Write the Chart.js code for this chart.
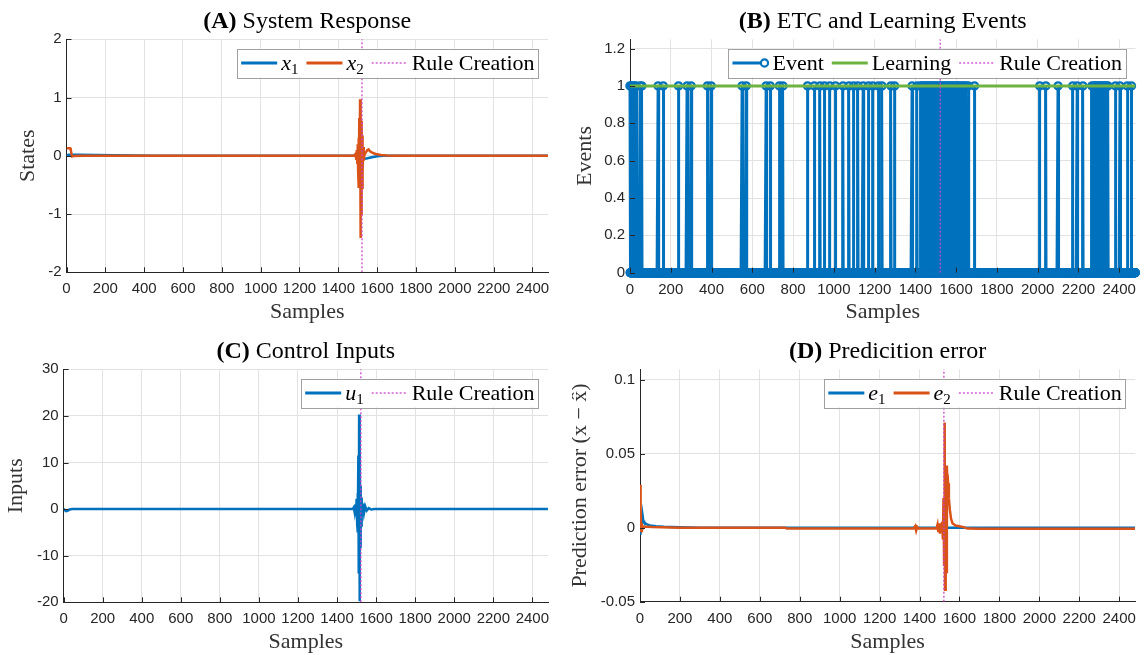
<!DOCTYPE html>
<html>
<head>
<meta charset="utf-8">
<title>ETC learning results</title>
<script src="https://cdn.jsdelivr.net/npm/chart.js@4.4.1/dist/chart.umd.min.js"></script>
<style>
  html, body { margin: 0; padding: 0; background: #fff; }
  #figure { position: relative; width: 1144px; height: 655px; overflow: hidden; }
  .panel { position: absolute; }
</style>
</head>
<body>
<div id="figure">
  <canvas id="panelA" class="panel" width="572" height="328" style="left:0;top:0"></canvas>
  <canvas id="panelB" class="panel" width="572" height="328" style="left:572px;top:0"></canvas>
  <canvas id="panelC" class="panel" width="572" height="327" style="left:0;top:328px"></canvas>
  <canvas id="panelD" class="panel" width="572" height="327" style="left:572px;top:328px"></canvas>
</div>
<script>
// ---- data ----
const sampleCount = 2480;
const ruleCreationSample = 1522;

const sampleTicks = [0, 200, 400, 600, 800, 1000, 1200, 1400, 1600, 1800, 2000, 2200, 2400];
const stateTicks = [-2, -1, 0, 1, 2];
const eventTicks = [0, 0.2, 0.4, 0.6, 0.8, 1, 1.2];
const inputTicks = [-20, -10, 0, 10, 20, 30];
const errorTicks = [-0.05, 0, 0.05, 0.1];

// (A) states, [sample, value]
const x1Trace = [[0, 0], [4, 0.01], [10, 0.02], [60, 0.02], [150, 0.015], [250, 0.008], [350, 0.004], [450, 0.001],
  [600, 0], [1480, 0], [1492, 0.01], [1498, -0.02], [1503, 0.03], [1508, -0.04], [1512, 0.05], [1516, -0.06],
  [1520, 0.03], [1524, -0.05], [1530, -0.05], [1545, -0.045], [1560, -0.035], [1580, -0.02], [1600, -0.008],
  [1630, 0], [2480, 0]];
const x2Trace = [[0, 0.13], [19, 0.13], [22, 0.1], [28, -0.01], [40, -0.005], [80, 0], [1480, 0], [1488, 0.03],
  [1492, -0.05], [1495, 0.1], [1498, -0.12], [1500, 0.2], [1502, -0.25], [1504, 0.3], [1506, -0.55], [1508, 0.65],
  [1510, -0.45], [1512, 0.97], [1514, -1.41], [1516, 0.7], [1518, -1.0], [1520, 0.6], [1522, -0.55], [1524, 0.35],
  [1526, -0.3], [1528, 0.15], [1531, -0.08], [1535, 0.02], [1542, 0.06], [1550, 0.1], [1556, 0.11], [1562, 0.08],
  [1572, 0.06], [1585, 0.04], [1600, 0.025], [1620, 0.012], [1650, 0.004], [1690, 0], [2480, 0]];

// (B) samples where an event fired
const eventSamples = [0, 7, 14, 22, 30, 50, 58, 138, 163, 238, 280, 300, 380, 398, 550, 570, 668, 688, 733, 750,
  871, 904, 932, 954, 980, 1008, 1045, 1074, 1097, 1118, 1144, 1170, 1191, 1218, 1236, 1280, 1298, 1384, 1408,
  1425, 1433, 1441, 1450, 1458, 1466, 1474, 1483, 1491, 1500, 1508, 1517, 1525, 1533, 1541, 1550, 1558, 1566,
  1575, 1583, 1591, 1600, 1608, 1616, 1625, 1633, 1641, 1648, 1660, 1690,
  2010, 2040, 2100, 2172, 2194, 2222, 2266, 2274, 2282, 2290, 2298, 2306, 2314, 2322, 2330, 2338, 2345,
  2382, 2404, 2440, 2460];
const learningTrace = [[0, 1], [2480, 1]];

// (C) control input
const u1Trace = [[0, 0], [6, -0.2], [12, -0.45], [20, -0.35], [30, -0.1], [45, 0], [1480, 0], [1486, 0.4],
  [1490, -0.6], [1494, 0.9], [1497, -1.5], [1500, 2.2], [1503, -3.2], [1505, 3.4], [1507, -5], [1509, 11.5],
  [1511, -13.8], [1513, 20.3], [1515, -19.8], [1517, 13.5], [1519, -8], [1521, 5], [1523, -3.5], [1526, 2.5],
  [1529, -1.5], [1533, 1.2], [1538, -0.8], [1544, 0.6], [1552, -0.3], [1562, 0.2], [1575, -0.1], [1590, 0],
  [2480, 0]];

// (D) prediction error
const e1Trace = [[0, -0.004], [2, 0.003], [4, -0.002], [7, 0.004], [10, 0.002], [13, 0.008], [16, 0.005],
  [20, 0.004], [26, 0.003], [35, 0.0022], [50, 0.0015], [80, 0.001], [120, 0.0006], [200, 0.0003], [300, 0],
  [1490, 0], [1505, 0.001], [1515, -0.002], [1520, 0.002], [1526, -0.001], [1535, 0], [2480, 0]];
const e2Trace = [[0, 0], [2, 0.029], [4, 0.012], [6, -0.002], [9, 0.003], [12, -0.001], [18, 0.0008], [60, 0.0005],
  [200, 0], [728, 0], [735, -0.0006], [1370, -0.0006], [1378, 0.001], [1383, -0.002], [1388, 0.0005],
  [1395, -0.0006], [1485, -0.0006], [1490, 0.002], [1494, -0.003], [1498, 0.003], [1502, -0.004], [1505, 0.002],
  [1509, -0.003], [1513, 0.004], [1517, -0.008], [1520, 0.02], [1523, -0.025], [1526, 0.071], [1528, -0.042],
  [1531, 0.02], [1534, -0.03], [1537, 0.042], [1540, 0.028], [1543, 0.03], [1547, 0.02], [1552, 0.012],
  [1558, 0.006], [1565, 0.003], [1580, 0.0015], [1600, 0.001], [1620, 0.0004], [1640, -0.0006], [1700, -0.0008],
  [2480, -0.0008]];

// ---- styling ----
const BLUE = '#0072BD';
const ORANGE = '#D95319';
const GREEN = '#6db33f';
const MAGENTA = '#cc44cc';
const AXIS = '#262626';
const GRID = '#e2e2e2';
const SERIF = '"Liberation Serif", "Times New Roman", serif';

Chart.defaults.font.family = '"Liberation Sans", Arial, sans-serif';
Chart.defaults.font.size = 15;
Chart.defaults.color = AXIS;

const toPoints = trace => trace.map(p => ({ x: p[0], y: p[1] }));
const ruleLine = (lo, hi) => [{ x: ruleCreationSample, y: lo }, { x: ruleCreationSample, y: hi }];

function lineSet(label, trace, color, order) {
    return {
        label: label,
        data: toPoints(trace),
        showLine: true,
        borderColor: color,
        borderWidth: 2.5,
        pointRadius: 0,
        order: order
    };
}

function ruleSet(lo, hi) {
    return {
        label: 'Rule Creation',
        data: ruleLine(lo, hi),
        showLine: true,
        borderColor: MAGENTA,
        borderWidth: 1.3,
        borderDash: [2, 2],
        pointRadius: 0,
        order: 0
    };
}

// title with bold tag, e.g. "(A) System Response"
function titlePlugin(tag, text) {
    return {
        id: 'panelTitle',
        afterDraw(chart) {
            const { ctx, chartArea: a } = chart;
            ctx.save();
            ctx.textBaseline = 'middle';
            ctx.textAlign = 'left';
            ctx.fillStyle = '#000';
            ctx.font = 'bold 24px ' + SERIF;
            const w1 = ctx.measureText(tag).width;
            ctx.font = '24px ' + SERIF;
            const w2 = ctx.measureText(' ' + text).width;
            const x = (a.left + a.right) / 2 - (w1 + w2) / 2;
            const y = a.top - 18;
            ctx.font = 'bold 24px ' + SERIF;
            ctx.fillText(tag, x, y);
            ctx.font = '24px ' + SERIF;
            ctx.fillText(' ' + text, x + w1, y);
            ctx.restore();
        }
    };
}

// boxed legend in the upper right corner, MATLAB style
function legendPlugin(items) {
    return {
        id: 'boxLegend',
        afterDraw(chart) {
            const { ctx, chartArea: a } = chart;
            const fonts = {
                main: '22px ' + SERIF,
                it: 'italic 22px ' + SERIF,
                sub: '15px ' + SERIF
            };
            const segFont = s => s.sub ? fonts.sub : (s.it ? fonts.it : fonts.main);
            ctx.save();
            const widths = items.map(item => item.label.reduce((w, s) => {
                ctx.font = segFont(s);
                return w + ctx.measureText(s.t).width;
            }, 0));
            const pad = 4, lineLen = 36, gap = 4, itemGap = 8, h = 28.6;
            const total = pad * 2 + widths.reduce((sum, w) => sum + lineLen + gap + w, 0) + itemGap * (items.length - 1);
            const right = a.right - 9.5;
            const top = a.top + 9.4;
            const left = right - total;
            ctx.fillStyle = '#fff';
            ctx.fillRect(left, top, total, h);
            ctx.strokeStyle = '#a0a0a0';
            ctx.lineWidth = 1;
            ctx.strokeRect(Math.round(left) + 0.5, Math.round(top) + 0.5, Math.round(total), Math.round(h));
            const cy = top + h / 2;
            let x = left + pad;
            items.forEach(item => {
                ctx.strokeStyle = item.color;
                ctx.lineWidth = item.width;
                ctx.setLineDash(item.dash || []);
                ctx.beginPath();
                ctx.moveTo(x, cy);
                ctx.lineTo(x + lineLen, cy);
                ctx.stroke();
                ctx.setLineDash([]);
                if (item.marker) {
                    ctx.lineWidth = 2.2;
                    ctx.beginPath();
                    ctx.arc(x + lineLen - 4, cy, 3.6, 0, Math.PI * 2);
                    ctx.fillStyle = '#fff';
                    ctx.fill();
                    ctx.stroke();
                }
                x += lineLen + gap;
                ctx.fillStyle = '#000';
                ctx.textBaseline = 'alphabetic';
                item.label.forEach(s => {
                    ctx.font = segFont(s);
                    ctx.fillText(s.t, x, cy + (s.sub ? 11 : 7));
                    x += ctx.measureText(s.t).width;
                });
                x += itemGap;
            });
            ctx.restore();
        }
    };
}

// MATLAB draws tick marks pointing into the axes
const inwardTicks = {
    id: 'inwardTicks',
    afterDatasetsDraw(chart) {
        const { ctx, chartArea: a, scales } = chart;
        ctx.save();
        ctx.strokeStyle = AXIS;
        ctx.lineWidth = 1;
        ctx.beginPath();
        scales.x.ticks.forEach(t => {
            const px = Math.round(scales.x.getPixelForValue(t.value)) + 0.5;
            ctx.moveTo(px, a.bottom);
            ctx.lineTo(px, a.bottom - 5);
        });
        scales.y.ticks.forEach(t => {
            const py = Math.round(scales.y.getPixelForValue(t.value)) + 0.5;
            ctx.moveTo(a.left, py);
            ctx.lineTo(a.left + 5, py);
        });
        ctx.stroke();
        ctx.restore();
    }
};

function makeScales(p) {
    return {
        x: {
            type: 'linear',
            min: 0,
            max: sampleCount,
            afterBuildTicks: axis => { axis.ticks = sampleTicks.map(v => ({ value: v })); },
            afterFit: axis => { axis.height = p.xHeight; },
            grid: { color: GRID, drawTicks: false },
            border: { color: AXIS, width: 1 },
            ticks: { padding: 8, maxRotation: 0, autoSkip: false, color: AXIS, callback: v => String(v) },
            title: {
                display: true, text: 'Samples', color: '#333',
                font: { family: SERIF, size: 22 },
                padding: { top: 0, bottom: p.xTitlePad }
            }
        },
        y: {
            type: 'linear',
            min: p.yMin,
            max: p.yMax,
            afterBuildTicks: axis => { axis.ticks = p.yTicks.map(v => ({ value: v })); },
            afterFit: axis => { axis.width = p.yWidth; },
            grid: { color: GRID, drawTicks: false },
            border: { color: AXIS, width: 1 },
            ticks: { padding: 5, color: AXIS, callback: v => String(v) },
            title: {
                display: true, text: p.yLabel, color: '#333',
                font: { family: SERIF, size: 22 },
                padding: { top: p.yTitlePad, bottom: 0 }
            }
        }
    };
}

function makePanel(id, p, datasets, plugins) {
    return new Chart(document.getElementById(id), {
        type: 'scatter',
        data: { datasets: datasets },
        options: {
            responsive: false,
            animation: false,
            events: [],
            layout: { autoPadding: false, padding: p.padding },
            plugins: { legend: { display: false }, tooltip: { enabled: false }, title: { display: false } },
            scales: makeScales(p)
        },
        plugins: [inwardTicks].concat(plugins)
    });
}

const sub = (base, idx) => [{ t: base, it: true }, { t: idx, sub: true }];
const ruleItem = { color: MAGENTA, width: 1.3, dash: [2, 2], label: [{ t: 'Rule Creation' }] };

// (A) System Response
makePanel('panelA', {
    padding: { left: 0, top: 39.3, right: 24, bottom: 0 },
    yWidth: 66.5, xHeight: 55.7, xTitlePad: 3, yTitlePad: 14.8,
    yMin: -2, yMax: 2, yTicks: stateTicks, yLabel: 'States'
}, [
    lineSet('x1', x1Trace, BLUE, 2),
    lineSet('x2', x2Trace, ORANGE, 1),
    ruleSet(-2, 2)
], [
    titlePlugin('(A)', 'System Response'),
    legendPlugin([
        { color: BLUE, width: 3, label: sub('x', '1') },
        { color: ORANGE, width: 3, label: sub('x', '2') },
        ruleItem
    ])
]);

// (B) ETC and Learning Events
const eventSet = new Set(eventSamples);
const eventPoints = [];
for (let s = 0; s < sampleCount; s++) {
    eventPoints.push({ x: s, y: eventSet.has(s) ? 1 : 0 });
}

makePanel('panelB', {
    padding: { left: 0, top: 39.3, right: 4, bottom: 0 },
    yWidth: 58, xHeight: 55.3, xTitlePad: 3, yTitlePad: 0,
    yMin: 0, yMax: 1.25, yTicks: eventTicks, yLabel: 'Events'
}, [
    {
        label: 'Event',
        data: eventPoints,
        showLine: true,
        borderColor: BLUE,
        borderWidth: 3,
        pointRadius: 3.6,
        pointBorderWidth: 2.3,
        pointBorderColor: BLUE,
        pointBackgroundColor: 'rgba(0,0,0,0)',
        clip: false,
        order: 2
    },
    {
        label: 'Learning',
        data: toPoints(learningTrace),
        showLine: true,
        borderColor: GREEN,
        borderWidth: 3,
        pointRadius: 0,
        order: 1
    },
    ruleSet(0, 1.25)
], [
    titlePlugin('(B)', 'ETC and Learning Events'),
    legendPlugin([
        { color: BLUE, width: 3, marker: true, label: [{ t: 'Event' }] },
        { color: GREEN, width: 3, label: [{ t: 'Learning' }] },
        ruleItem
    ])
]);

// (C) Control Inputs
makePanel('panelC', {
    padding: { left: 0, top: 41.3, right: 24, bottom: 0 },
    yWidth: 63.6, xHeight: 52.7, xTitlePad: 0, yTitlePad: 3.2,
    yMin: -20, yMax: 30, yTicks: inputTicks, yLabel: 'Inputs'
}, [
    lineSet('u1', u1Trace, BLUE, 1),
    ruleSet(-20, 30)
], [
    titlePlugin('(C)', 'Control Inputs'),
    legendPlugin([
        { color: BLUE, width: 3, label: sub('u', '1') },
        ruleItem
    ])
]);

// (D) Predicition error
makePanel('panelD', {
    padding: { left: 0, top: 41.3, right: 4, bottom: 0 },
    yWidth: 68, xHeight: 53.3, xTitlePad: 0, yTitlePad: -5.2,
    yMin: -0.05, yMax: 0.107, yTicks: errorTicks, yLabel: 'Prediction error (x \u2212 x\u0302)'
}, [
    lineSet('e1', e1Trace, BLUE, 2),
    lineSet('e2', e2Trace, ORANGE, 1),
    ruleSet(-0.05, 0.107)
], [
    titlePlugin('(D)', 'Predicition error'),
    legendPlugin([
        { color: BLUE, width: 3, label: sub('e', '1') },
        { color: ORANGE, width: 3, label: sub('e', '2') },
        ruleItem
    ])
]);
</script>
</body>
</html>
